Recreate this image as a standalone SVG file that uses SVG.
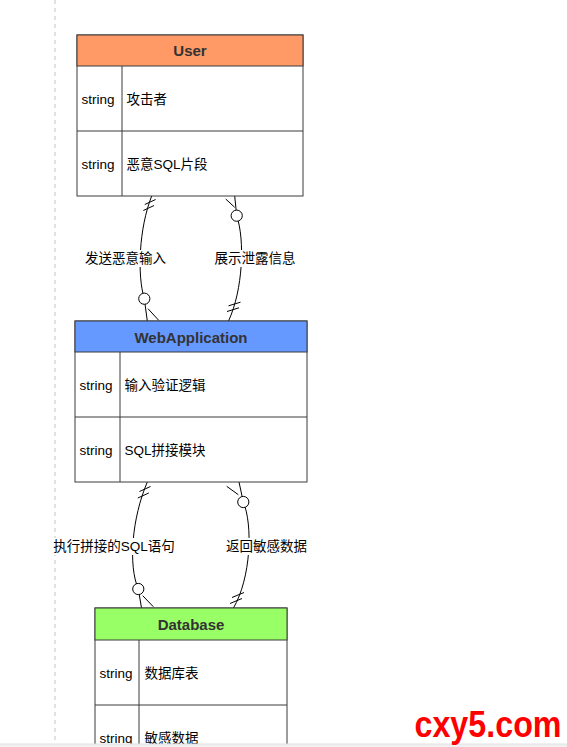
<svg xmlns="http://www.w3.org/2000/svg" width="567" height="747" viewBox="0 0 567 747">
<style>
.box{fill:#fff;stroke:#3a3a3a;stroke-width:1}
.hdr{stroke:#3a3a3a;stroke-width:1}
.sep{stroke:#3a3a3a;stroke-width:1;fill:none}
.ht{font-family:"Liberation Sans","Noto Sans CJK SC",sans-serif;font-size:15px;font-weight:bold;fill:#333;text-anchor:middle;dominant-baseline:central}
.t{font-family:"Liberation Sans","Noto Sans CJK SC",sans-serif;font-size:13.5px;fill:#000;dominant-baseline:central}
.lbl{font-family:"Liberation Sans","Noto Sans CJK SC",sans-serif;font-size:13.5px;fill:#000;text-anchor:middle;dominant-baseline:central}
.lblbg{fill:#fff}
.edge{fill:none;stroke:#000;stroke-width:1}
.mk{fill:none;stroke:#000;stroke-width:1}
.circ{fill:#fff;stroke:#000;stroke-width:1}
</style>
<rect x="0" y="0" width="567" height="747" fill="#fff"/>
<line x1="55" y1="0" x2="55" y2="747" stroke="#c4c4c4" stroke-width="1" stroke-dasharray="4 4"/>

<g id="connectors">
  <g id="edge-send">
    <path class="edge" d="M151.7,196 C139,228 137,275 144.3,298.7 L147.3,321"/>
    <line class="mk" x1="144.8" y1="204.5" x2="155.6" y2="199.5"/>
    <line class="mk" x1="143.3" y1="210.5" x2="154.1" y2="205.5"/>
    <line class="mk" x1="148" y1="308.7" x2="158.7" y2="320.3"/>
    <circle class="circ" cx="144.3" cy="298.7" r="5.6"/>
    <rect class="lblbg" x="84" y="250" width="83" height="17"/>
    <text class="lbl" x="125.5" y="258.5">发送恶意输入</text>
  </g>
  <g id="edge-show">
    <path class="edge" d="M228.5,321 C243,290 245,240 236.7,215.7 L234.7,196"/>
    <line class="mk" x1="227" y1="311.5" x2="239" y2="307.8"/>
    <line class="mk" x1="228.5" y1="305.8" x2="240.5" y2="302.2"/>
    <line class="mk" x1="225.7" y1="199" x2="234.7" y2="207.3"/>
    <circle class="circ" cx="236.7" cy="215.7" r="5.6"/>
    <rect class="lblbg" x="213" y="250" width="84" height="17"/>
    <text class="lbl" x="255" y="258.5">展示泄露信息</text>
  </g>
  <g id="edge-exec">
    <path class="edge" d="M147.3,482 C132,518 128,565 138.3,589 L141.5,608"/>
    <line class="mk" x1="139.5" y1="491.5" x2="150.5" y2="486.5"/>
    <line class="mk" x1="137.8" y1="498" x2="148.8" y2="493"/>
    <line class="mk" x1="142.7" y1="595.7" x2="153.3" y2="606.7"/>
    <circle class="circ" cx="138.3" cy="589" r="5.6"/>
    <rect class="lblbg" x="51" y="538" width="126" height="17"/>
    <text class="lbl" x="114" y="546.5">执行拼接的SQL语句</text>
  </g>
  <g id="edge-return">
    <path class="edge" d="M233.3,608.3 C251,578 253,525 243.3,502 L239,482"/>
    <line class="mk" x1="230" y1="603.5" x2="242" y2="598.5"/>
    <line class="mk" x1="232" y1="597.5" x2="244" y2="592.5"/>
    <line class="mk" x1="226.7" y1="486.3" x2="238.3" y2="494.7"/>
    <circle class="circ" cx="243.3" cy="502" r="5.6"/>
    <rect class="lblbg" x="225" y="538" width="83" height="17"/>
    <text class="lbl" x="266.5" y="546.5">返回敏感数据</text>
  </g>
</g>

<g id="node-user">
  <rect class="box" x="77" y="35" width="226" height="161"/>
  <rect class="hdr" x="77" y="35" width="226" height="31" fill="#ff9966"/>
  <line class="sep" x1="77" y1="131" x2="303" y2="131"/>
  <line class="sep" x1="122" y1="66" x2="122" y2="196"/>
  <text class="ht" x="190" y="50.5">User</text>
  <text class="t" x="81.5" y="99">string</text>
  <text class="t" x="126.5" y="99">攻击者</text>
  <text class="t" x="81.5" y="164">string</text>
  <text class="t" x="126.5" y="164">恶意SQL片段</text>
</g>

<g id="node-webapp">
  <rect class="box" x="75" y="321" width="232" height="161"/>
  <rect class="hdr" x="75" y="321" width="232" height="31" fill="#6699ff"/>
  <line class="sep" x1="75" y1="417" x2="307" y2="417"/>
  <line class="sep" x1="120" y1="352" x2="120" y2="482"/>
  <text class="ht" x="191" y="337">WebApplication</text>
  <text class="t" x="79.5" y="385">string</text>
  <text class="t" x="124.5" y="385">输入验证逻辑</text>
  <text class="t" x="79.5" y="450">string</text>
  <text class="t" x="124.5" y="450">SQL拼接模块</text>
</g>

<g id="node-database">
  <rect class="box" x="95" y="608" width="192" height="162"/>
  <rect class="hdr" x="95" y="608" width="192" height="32" fill="#99ff66"/>
  <line class="sep" x1="95" y1="705" x2="287" y2="705"/>
  <line class="sep" x1="139" y1="640" x2="139" y2="770"/>
  <text class="ht" x="191" y="624.5">Database</text>
  <text class="t" x="99.5" y="673">string</text>
  <text class="t" x="144.5" y="673">数据库表</text>
  <text class="t" x="99.5" y="738">string</text>
  <text class="t" x="144.5" y="738">敏感数据</text>
</g>

<rect x="0" y="744" width="567" height="3" fill="#f0f0f0"/>
<line x1="0" y1="744" x2="567" y2="744" stroke="#e0e0e0" stroke-width="1"/>
<text transform="translate(488,737) scale(1,1.25)" x="0" y="0" font-family="'Liberation Sans',sans-serif" font-size="30" font-weight="bold" fill="#ff0000" text-anchor="middle" textLength="147" lengthAdjust="spacingAndGlyphs">cxy5.com</text>
</svg>
